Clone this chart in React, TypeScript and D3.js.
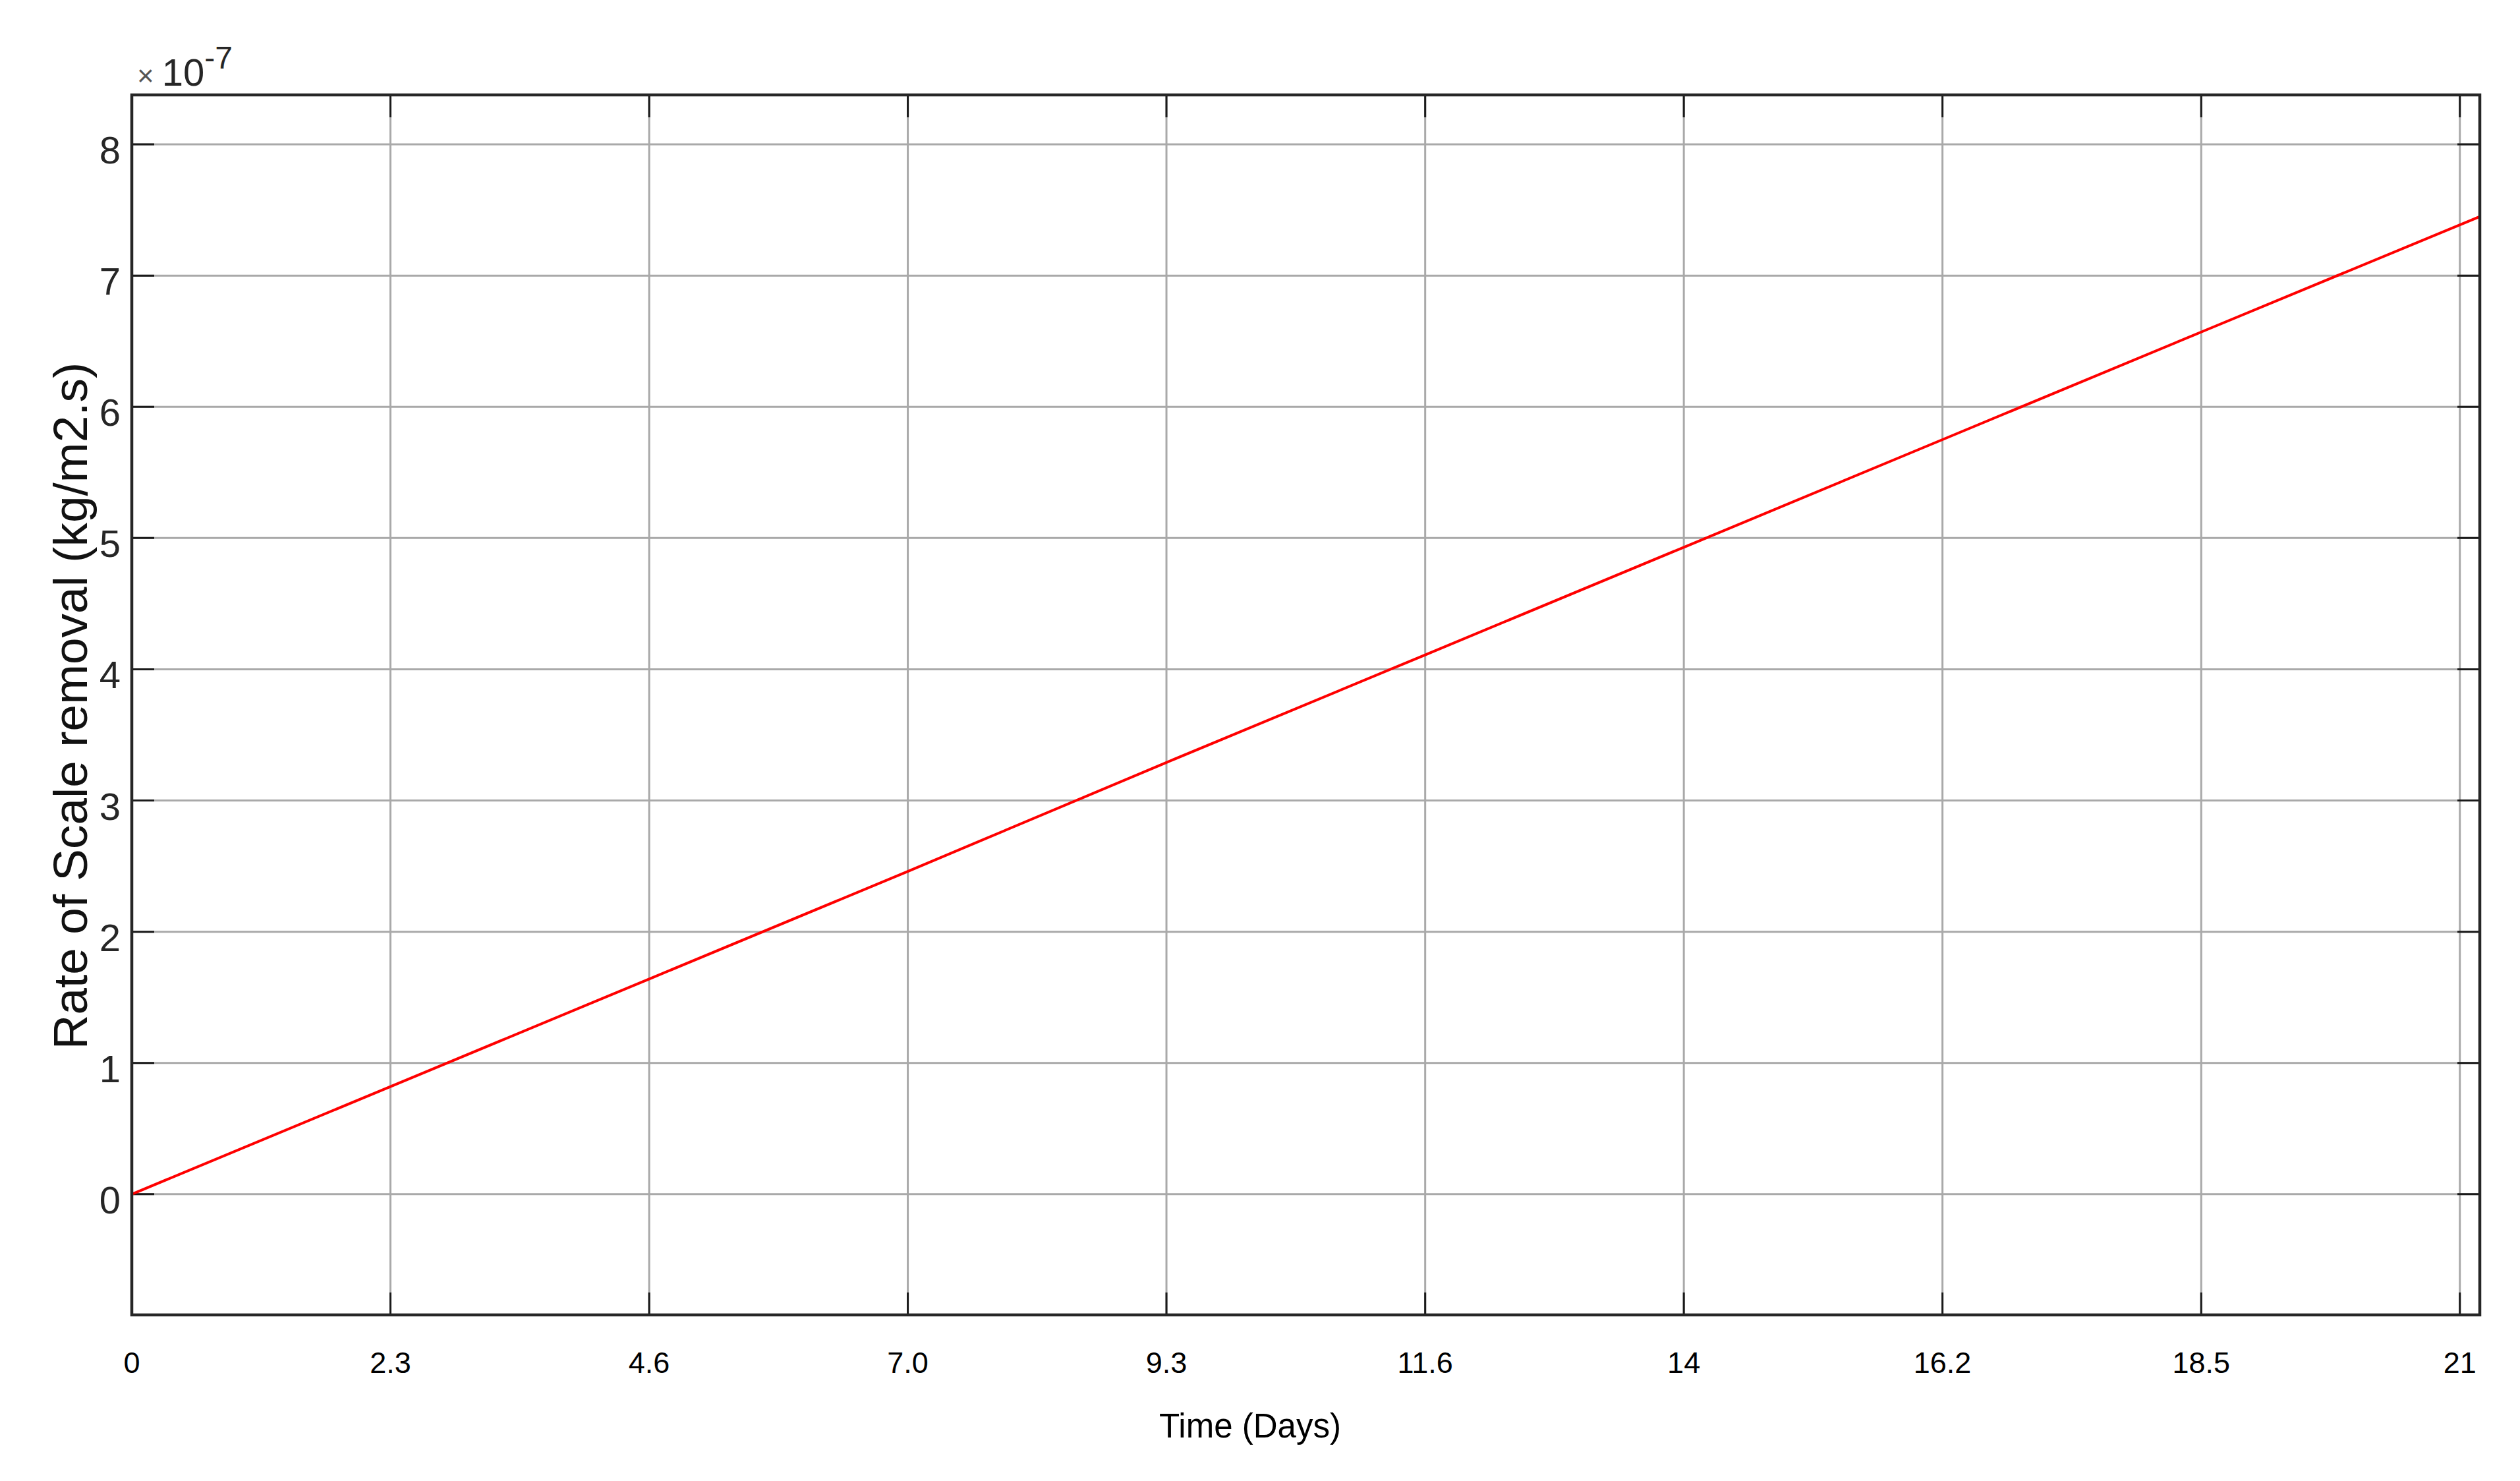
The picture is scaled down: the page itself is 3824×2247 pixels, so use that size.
import React, { useEffect, useRef } from 'react';
import * as d3 from 'd3';

// time axis (days) and tick labels as printed on the figure
const xTicks = [0, 2.333, 4.667, 7, 9.333, 11.667, 14, 16.333, 18.667, 21];
const xTickLabels = ['0', '2.3', '4.6', '7.0', '9.3', '11.6', '14', '16.2', '18.5', '21'];
const yTicks = [0, 1, 2, 3, 4, 5, 6, 7, 8];

// rate of scale removal, in units of 1e-7 kg/m2.s
const timeDays = [0, 2.333, 4.667, 7, 9.333, 11.667, 14, 16.333, 18.667, 21.18];
const rateValues = [0, 0.82, 1.64, 2.46, 3.29, 4.11, 4.93, 5.75, 6.57, 7.45];

const xDomain = [0, 21.18];
const yDomain = [-0.92, 8.377];

const W = 3824, H = 2247;
const FONT = '"Liberation Sans", Arial, Helvetica, sans-serif';

export default function App() {
    const ref = useRef<SVGSVGElement>(null);

    useEffect(() => {
        const svg = d3.select(ref.current);
        svg.selectAll('*').remove();

        const left = 200, right = 3763, top = 144, bottom = 1995;

        const x = d3.scaleLinear().domain(xDomain).range([left, right]);
        const y = d3.scaleLinear().domain(yDomain).range([bottom, top]);

        svg.append('rect').attr('width', W).attr('height', H).attr('fill', '#fff');

        // grid
        const grid = svg.append('g').attr('stroke', '#a9a9a9').attr('stroke-width', 3);
        grid.selectAll('.vg').data(xTicks).enter().append('line')
            .attr('x1', d => x(d)).attr('x2', d => x(d))
            .attr('y1', top).attr('y2', bottom);
        grid.selectAll('.hg').data(yTicks).enter().append('line')
            .attr('x1', left).attr('x2', right)
            .attr('y1', d => y(d)).attr('y2', d => y(d));

        // ticks (inward, all four sides)
        const tl = 34;
        const ticks = svg.append('g').attr('stroke', '#1a1a1a').attr('stroke-width', 3);
        xTicks.forEach(d => {
            ticks.append('line').attr('x1', x(d)).attr('x2', x(d)).attr('y1', bottom).attr('y2', bottom - tl);
            ticks.append('line').attr('x1', x(d)).attr('x2', x(d)).attr('y1', top).attr('y2', top + tl);
        });
        yTicks.forEach(d => {
            ticks.append('line').attr('x1', left).attr('x2', left + tl).attr('y1', y(d)).attr('y2', y(d));
            ticks.append('line').attr('x1', right).attr('x2', right - tl).attr('y1', y(d)).attr('y2', y(d));
        });

        // red line
        const line = d3.line<number>()
            .x((d, i) => x(timeDays[i]))
            .y(d => y(d));
        svg.append('path')
            .datum(rateValues)
            .attr('d', line)
            .attr('fill', 'none')
            .attr('stroke', '#ff0000')
            .attr('stroke-width', 4);

        // box
        svg.append('rect')
            .attr('x', left).attr('y', top)
            .attr('width', right - left).attr('height', bottom - top)
            .attr('fill', 'none')
            .attr('stroke', '#262626')
            .attr('stroke-width', 4.5);

        // x tick labels
        svg.append('g').selectAll('text').data(xTicks).enter().append('text')
            .attr('x', d => x(d))
            .attr('y', 2083)
            .attr('text-anchor', 'middle')
            .attr('font-family', FONT)
            .attr('font-size', 45)
            .attr('fill', '#000')
            .text((d, i) => xTickLabels[i]);

        // y tick labels
        svg.append('g').selectAll('text').data(yTicks).enter().append('text')
            .attr('x', 183)
            .attr('y', d => y(d) + 29)
            .attr('text-anchor', 'end')
            .attr('font-family', FONT)
            .attr('font-size', 58)
            .attr('fill', '#262626')
            .text(d => d);

        // axis titles
        svg.append('text')
            .attr('x', 1897).attr('y', 2181)
            .attr('text-anchor', 'middle')
            .attr('font-family', FONT)
            .attr('font-size', 51)
            .attr('fill', '#000')
            .text('Time (Days)');

        svg.append('text')
            .attr('transform', 'translate(132, 1071) rotate(-90)')
            .attr('text-anchor', 'middle')
            .attr('font-family', FONT)
            .attr('font-size', 73)
            .attr('fill', '#111')
            .text('Rate of Scale removal (kg/m2.s)');

        // exponent
        const ex = svg.append('text')
            .attr('x', 208).attr('y', 130)
            .attr('font-family', FONT)
            .attr('fill', '#262626');
        ex.append('tspan').attr('font-size', 44).attr('fill', '#555').text('\u00d7');
        ex.append('tspan').attr('font-size', 58).attr('dx', 12).text('10');
        ex.append('tspan').attr('font-size', 48).attr('dy', -26).text('-7');
    }, []);

    return (
        <svg ref={ref} width={W} height={H}
             style={{ position: 'absolute', left: 0, top: 0 }} />
    );
}
